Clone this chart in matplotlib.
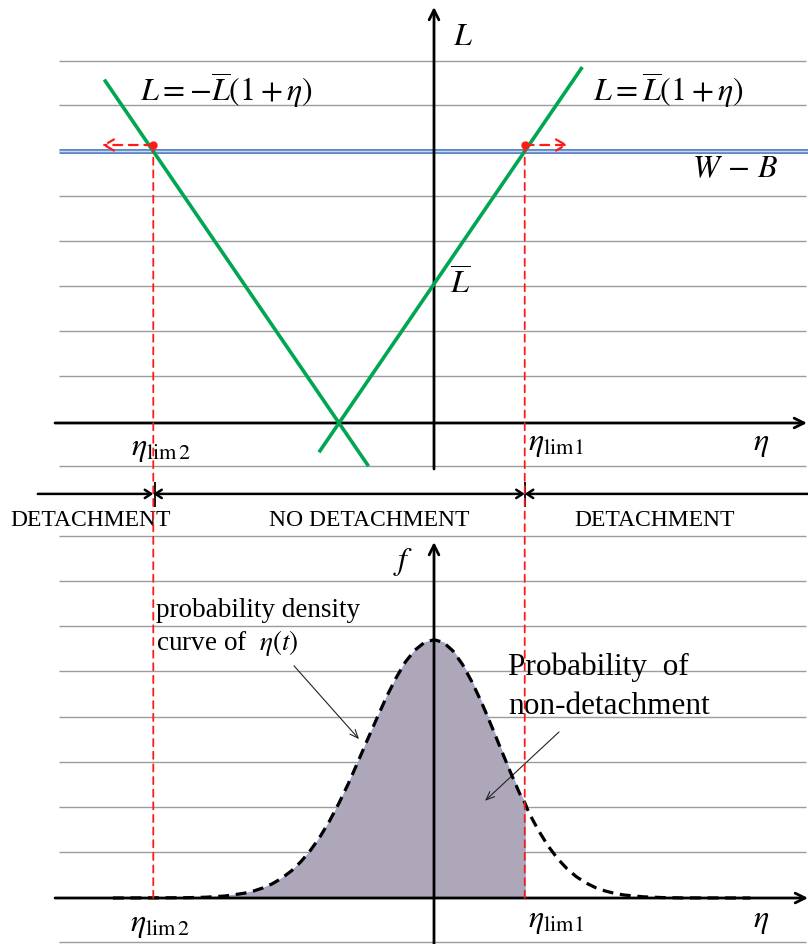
import matplotlib
matplotlib.use("Agg")
import matplotlib.pyplot as plt
from matplotlib.patches import ConnectionPatch
import numpy as np

plt.rcParams["font.family"] = ["Liberation Serif", "DejaVu Serif"]
plt.rcParams["mathtext.fontset"] = "stix"

# ---- model quantities (L in units of L-bar) ----
L_bar = 1.0
W_minus_B = 1.955
eta_lim1 = W_minus_B / L_bar - 1.0
eta_lim2 = -W_minus_B / L_bar - 1.0

# lift lines L = L_bar(1+eta) and L = -L_bar(1+eta)
eta_pos_line = [-1.20, 1.55]
eta_neg_line = [-3.46, -0.70]

# horizontal reference levels of the ruled background
top_rules = [-0.309, 0.338, 0.662, 0.986, 1.309, 1.633, 2.288, 2.604]
bottom_rules = [-0.098, 0.102, 0.202, 0.302, 0.402, 0.504, 0.604, 0.704, 0.804]

# probability density of eta(t)
eta_pdf = [-3.38, -2.6, -2.4, -2.2, -2.0, -1.9, -1.8, -1.7, -1.6, -1.5, -1.4,
           -1.3, -1.2, -1.1, -1.0, -0.9, -0.8, -0.7, -0.6, -0.5, -0.4, -0.3,
           -0.2, -0.1, 0.0, 0.1, 0.2, 0.3, 0.4, 0.5, 0.6, 0.7, 0.8, 0.9, 0.955,
           1.0, 1.1, 1.2, 1.3, 1.4, 1.5, 1.6, 1.7, 1.8, 1.9, 2.0, 2.2, 2.4,
           2.6, 3.33]
f_pdf = [0.0, 0.0007, 0.0018, 0.0045, 0.0105, 0.0155, 0.0225, 0.0319, 0.0444,
         0.0605, 0.081, 0.106, 0.136, 0.171, 0.211, 0.255, 0.303, 0.352, 0.400,
         0.447, 0.489, 0.525, 0.551, 0.568, 0.574, 0.568, 0.549, 0.519, 0.480,
         0.435, 0.385, 0.333, 0.282, 0.233, 0.212, 0.189, 0.150, 0.116, 0.0878,
         0.0650, 0.0471, 0.0334, 0.0231, 0.0157, 0.0104, 0.0067, 0.0027,
         0.0010, 0.0003, 0.0]

region_labels = ["DETACHMENT", "NO DETACHMENT", "DETACHMENT"]
region_centres = [-3.616, -0.684, 2.326]

GREEN = "#00A651"
RED = "#FF1A1A"
GRID = "#9C9C9C"
FILL = "#AEA7B9"

fig = plt.figure(figsize=(8.08, 9.45), dpi=100)
ax_top = fig.add_axes([0, 1 - 480 / 945, 1, 480 / 945])
ax_bot = fig.add_axes([0, 0, 1, 465 / 945])

x_lim = (-4.5684, 3.9368)
ax_top.set_xlim(*x_lim)
ax_top.set_ylim(-0.4029, 3.0504)
ax_bot.set_xlim(*x_lim)
ax_bot.set_ylim(-0.1022, 0.9311)
for ax in (ax_top, ax_bot):
    ax.axis("off")

rule_x = (-3.947, 3.916)
AXIS_LW = 2.0
arrow_kw = dict(arrowstyle="->,head_length=0.7,head_width=0.35", lw=AXIS_LW,
                color="black", shrinkA=0, shrinkB=0)

# ---------------- upper diagram: lift vs eta ----------------
ax_top.hlines(top_rules, *rule_x, colors=GRID, lw=1.0, zorder=1)

# W - B level
ax_top.plot([-3.947, 3.937], [W_minus_B, W_minus_B], color="#5B87C5",
            lw=3.6, solid_capstyle="butt", zorder=2)
ax_top.plot([-3.947, 3.937], [W_minus_B, W_minus_B], color="#C9D8EE",
            lw=1.0, solid_capstyle="butt", zorder=2)

# coordinate axes
ax_top.annotate("", xy=(3.926, 0), xytext=(-3.989, 0), arrowprops=arrow_kw, zorder=3)
ax_top.annotate("", xy=(0, 2.993), xytext=(0, -0.331), arrowprops=arrow_kw, zorder=3)

# lift lines
eta_p = np.array(eta_pos_line)
eta_n = np.array(eta_neg_line)
ax_top.plot(eta_p, L_bar * (1 + eta_p), color=GREEN, lw=2.6, zorder=4)
ax_top.plot(eta_n, -L_bar * (1 + eta_n), color=GREEN, lw=2.6, zorder=4)

# limit points and direction of detachment
mark_level = W_minus_B + 0.045
ax_top.plot([eta_lim2, eta_lim1], [mark_level, mark_level], "o", color=RED,
            ms=5, zorder=5)
red_arrow = dict(arrowstyle="->,head_length=0.7,head_width=0.4", lw=1.6,
                 color=RED, linestyle=(0, (4, 3)), shrinkA=0, shrinkB=0)
ax_top.annotate("", xy=(-3.495, mark_level), xytext=(eta_lim2, mark_level),
                arrowprops=red_arrow, zorder=5)
ax_top.annotate("", xy=(1.41, mark_level), xytext=(eta_lim1, mark_level),
                arrowprops=red_arrow, zorder=5)

# vertical limit lines reaching down to the density axis
for e in (eta_lim2, eta_lim1):
    con = ConnectionPatch(xyA=(e, mark_level), coordsA=ax_top.transData,
                          xyB=(e, 0.0), coordsB=ax_bot.transData,
                          color=RED, lw=1.3, linestyle=(0, (4, 3)), zorder=6)
    fig.add_artist(con)

FS_EQ = 23
ax_top.text(-3.095, 2.403, r"$L=-\overline{L}\left(1+\eta\right)$", fontsize=FS_EQ,
            ha="left", va="center")
ax_top.text(1.674, 2.403, r"$L=\overline{L}\left(1+\eta\right)$", fontsize=FS_EQ,
            ha="left", va="center")
ax_top.text(2.716, 1.827, r"$W\,-\,B$", fontsize=FS_EQ, ha="left", va="center")
ax_top.text(0.168, 1.007, r"$\overline{L}$", fontsize=FS_EQ, ha="left", va="center")
ax_top.text(0.20, 2.784, r"$L$", fontsize=FS_EQ, ha="left", va="center")
ax_top.text(-3.19, -0.187, r"$\eta_{\mathrm{lim}\,2}$", fontsize=FS_EQ,
            ha="left", va="center")
ax_top.text(0.99, -0.151, r"$\eta_{\mathrm{lim}1}$", fontsize=FS_EQ,
            ha="left", va="center")
ax_top.text(3.358, -0.151, r"$\eta$", fontsize=FS_EQ, ha="left", va="center")

# ---------------- region bar ----------------
bar_level = 0.898
seg_kw = dict(lw=1.8, color="black", shrinkA=0, shrinkB=0)
ax_bot.annotate("", xy=(eta_lim2, bar_level), xytext=(-4.17, bar_level),
                arrowprops=dict(arrowstyle="->,head_length=0.45,head_width=0.3", **seg_kw))
ax_bot.annotate("", xy=(eta_lim1, bar_level), xytext=(eta_lim2, bar_level),
                arrowprops=dict(arrowstyle="<->,head_length=0.45,head_width=0.3", **seg_kw))
ax_bot.annotate("", xy=(eta_lim1, bar_level), xytext=(3.94, bar_level),
                arrowprops=dict(arrowstyle="->,head_length=0.45,head_width=0.3", **seg_kw))
ax_bot.vlines([eta_lim2 + 0.02, eta_lim1], 0.869, 0.924, colors="black", lw=1.3)
for lab, c in zip(region_labels, region_centres):
    ax_bot.text(c, 0.842, lab, fontsize=17, ha="center", va="center")

# ---------------- lower diagram: density of eta ----------------
ax_bot.hlines(bottom_rules, *rule_x, colors=GRID, lw=1.0, zorder=1)

eta_arr = np.array(eta_pdf)
f_arr = np.array(f_pdf)
ax_bot.fill_between(eta_arr, 0, f_arr, where=eta_arr <= eta_lim1 + 1e-9,
                    facecolor=FILL, edgecolor="#8FAADC", lw=0.8, zorder=2)
ax_bot.plot(eta_arr, f_arr, color="black", lw=2.3, linestyle=(0, (3.4, 2.1)),
            zorder=4)

ax_bot.annotate("", xy=(3.937, 0), xytext=(-3.989, 0), arrowprops=arrow_kw, zorder=3)
ax_bot.annotate("", xy=(0, 0.791), xytext=(0, -0.102), arrowprops=arrow_kw, zorder=3)

ax_bot.text(-0.432, 0.749, r"$f$", fontsize=FS_EQ, ha="left", va="center")
ax_bot.text(-2.926, 0.642, "probability density", fontsize=19.5,
            ha="left", va="center")
ax_bot.text(-2.926, 0.569, r"curve of  $\eta(t)$", fontsize=19.5,
            ha="left", va="center")
ax_bot.annotate("", xy=(-0.789, 0.353), xytext=(-1.474, 0.516),
                arrowprops=dict(arrowstyle="->,head_length=0.6,head_width=0.25",
                                lw=0.8, color="#222222", shrinkA=0, shrinkB=0))
ax_bot.text(0.779, 0.516, "Probability  of", fontsize=22.5, ha="left", va="center")
ax_bot.text(0.779, 0.427, "non-detachment", fontsize=22.5, ha="left", va="center")
ax_bot.annotate("", xy=(0.537, 0.216), xytext=(1.316, 0.369),
                arrowprops=dict(arrowstyle="->,head_length=0.6,head_width=0.25",
                                lw=0.8, color="#222222", shrinkA=0, shrinkB=0))

ax_bot.text(-3.2, -0.058, r"$\eta_{\mathrm{lim}\,2}$", fontsize=FS_EQ,
            ha="left", va="center")
ax_bot.text(0.99, -0.049, r"$\eta_{\mathrm{lim}1}$", fontsize=FS_EQ,
            ha="left", va="center")
ax_bot.text(3.358, -0.049, r"$\eta$", fontsize=FS_EQ, ha="left", va="center")

fig.savefig("out.png", dpi=100)
